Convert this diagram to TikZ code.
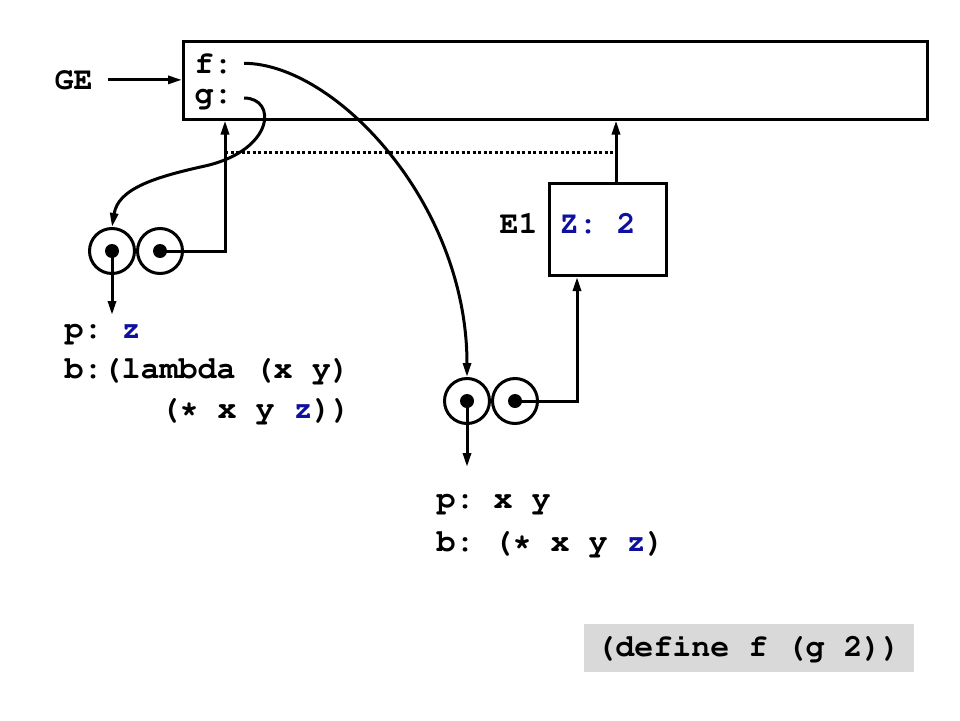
\documentclass[tikz,border=0pt]{standalone}
\usepackage[T1]{fontenc}
\usepackage{courier}
\usepackage{tikz}
\usetikzlibrary{arrows.meta,positioning}
\usepackage{xcolor}
\definecolor{envblue}{RGB}{16,16,160}
\definecolor{codegray}{RGB}{217,217,217}
\frenchspacing

\begin{document}
\begin{tikzpicture}[x=1pt,y=-1pt,line width=3pt,
  >={Triangle[length=14pt,width=8pt]},
  every node/.style={font=\fontsize{31.7}{40}\ttfamily\bfseries,inner sep=0pt},
  frame/.style={draw,rectangle,inner sep=0pt},
  cell/.style={circle,draw,minimum size=45pt,inner sep=0pt},
  dot/.style={circle,fill,minimum size=14pt,inner sep=0pt},
  dotrule/.style={line width=3pt,dash pattern=on 3pt off 2.5pt}]
\useasboundingbox (0,0) rectangle (960,720);
% global environment
\node (ge) [frame,minimum width=744pt,minimum height=78pt] at (555.5,80) {};
\node (genv) [anchor=base west] at (53,89) {GE};
\node (fvar) [anchor=base west] at (193,73) {f:};
\node (gvar) [anchor=base west] at (193,103) {g:};
\path[->](genv.east) ++(14,0) coordinate (gestart) edge (gestart -| ge.west);
%
% frame E1
\node (e1) [frame,minimum width=117pt,minimum height=92pt] at (608,229.5) {};
\node (e1lbl) [anchor=base west] at (498,233) {E1};
\node (zbind) [anchor=base west,text=envblue] at (558,233) {Z: 2};
\draw[->] ([xshift=8pt]e1.north) -- ([xshift=8pt]e1.north |- ge.south);
%
% procedure g
\node (c1l) [cell] at (112,251) {};
\node (c1r) [cell,right=0pt of c1l] {};
\node (d1l) [dot] at (c1l) {};
\node (d1r) [dot] at (c1r) {};
\node (p1line) [anchor=base west] at (63,338) {p: \textcolor{envblue}{z}};
\node (b1line) [anchor=base west] at (63,378) {b:(lambda (x y)};
\node (b1cont) [anchor=base west] at (159,418) {(* x y \textcolor{envblue}{z}))};
\coordinate (d1end) at (112,315);
\draw[->] (d1l.center) -- (d1end);
\draw[->] (d1r.center) -| ([xshift=43pt]ge.south west);
%
% procedure f
\node (c2l) [cell] at (467,401) {};
\node (c2r) [cell,right=0pt of c2l] {};
\node (d2l) [dot] at (c2l) {};
\node (d2r) [dot] at (c2r) {};
\node (p2line) [anchor=base west] at (435,508) {p: x y};
\node (b2line) [anchor=base west] at (435,551) {b: (* x y \textcolor{envblue}{z})};
\coordinate (d2end) at (467,467);
\draw[->] (d2l.center) -- (d2end);
\draw[->] (d2r.center) -| ([xshift=-31pt]e1.south);
%
% bindings
\coordinate (gbend) at (205,166);
\draw[->] ([xshift=10pt]fvar.east) .. controls +(90,0) and +(0,-175) .. (c2l.north);
\draw[->] ([xshift=10pt]gvar.east) .. controls +(33,0) and (275,150) .. (gbend)
  .. controls (150,178) and (118,190) .. (c1l.north);
\coordinate (dl) at (225,152);
\coordinate (dr) at (615,152);
\draw[dotrule] (dl) -- (dr);
%
\node (cmd) [fill=codegray,minimum width=330pt,minimum height=48pt] at (748.5,648) {(define f (g 2))};
\end{tikzpicture}
\end{document}
